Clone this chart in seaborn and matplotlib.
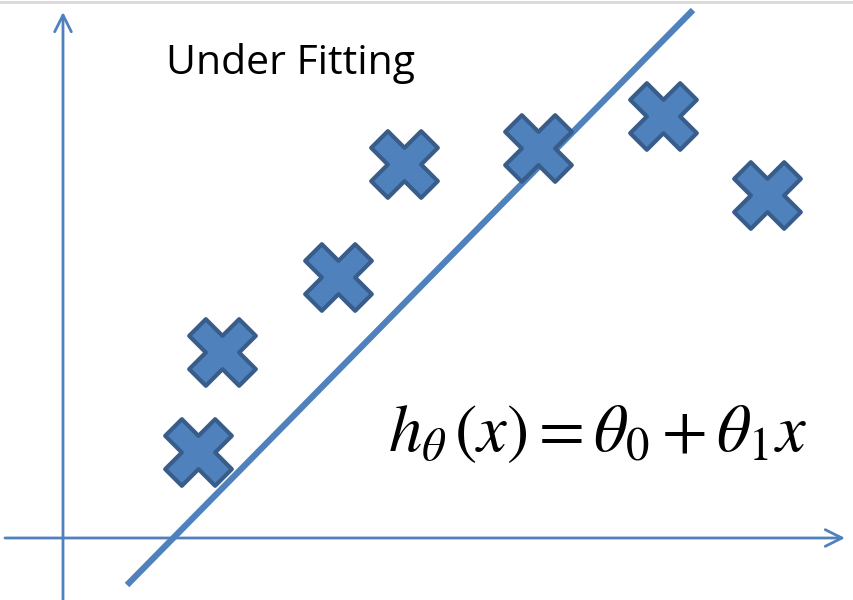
import matplotlib
matplotlib.use("Agg")
import matplotlib.pyplot as plt
import seaborn as sns
import pandas as pd

# data (origin at the drawn axes crossing)
point_x = [135, 159, 275, 341, 475, 600, 704]
point_y = [86, 186, 261, 374, 390, 422, 343]
line_x = [64, 630]
line_y = [-47, 528]
title_text = "Under Fitting"
formula_text = r"$h_\theta\,(x) = \theta_0 + \theta_1 x$"

BLUE = "#4F81BD"
EDGE = "#385D8A"

sns.set_theme(style="white")
plt.rcParams["mathtext.fontset"] = "stix"

fig = plt.figure(figsize=(8.54, 6.0), dpi=100)
ax = fig.add_axes([0, 0, 1, 1])
ax.set_xlim(-63, 791)
ax.set_ylim(-62, 538)
ax.axis("off")

# axes arrows
ax.annotate("", xy=(0, 526), xytext=(0, -62),
            arrowprops=dict(arrowstyle="->,head_length=1.0,head_width=0.5",
                            color=BLUE, lw=2, shrinkA=0, shrinkB=0))
ax.annotate("", xy=(782, 0), xytext=(-58, 0),
            arrowprops=dict(arrowstyle="->,head_length=1.0,head_width=0.5",
                            color=BLUE, lw=2, shrinkA=0, shrinkB=0))

line_df = pd.DataFrame({"x": line_x, "y": line_y})
sns.lineplot(data=line_df, x="x", y="y", ax=ax, color=BLUE, linewidth=4.5,
             solid_capstyle="butt")

pts = pd.DataFrame({"x": point_x, "y": point_y})
sns.scatterplot(data=pts, x="x", y="y", ax=ax, marker="X", s=2300,
                color=BLUE, edgecolor=EDGE, linewidth=3, zorder=5)

ax.text(228, 475, title_text, fontsize=29.5, family="Open Sans",
        ha="center", va="center", color="black")
ax.text(534, 106, formula_text, fontsize=48, ha="center", va="center",
        color="black")

fig.add_artist(plt.Line2D([0, 1], [0.996, 0.996], transform=fig.transFigure,
                          color="#d9d9d9", lw=2))

fig.savefig("out.png", dpi=100)
